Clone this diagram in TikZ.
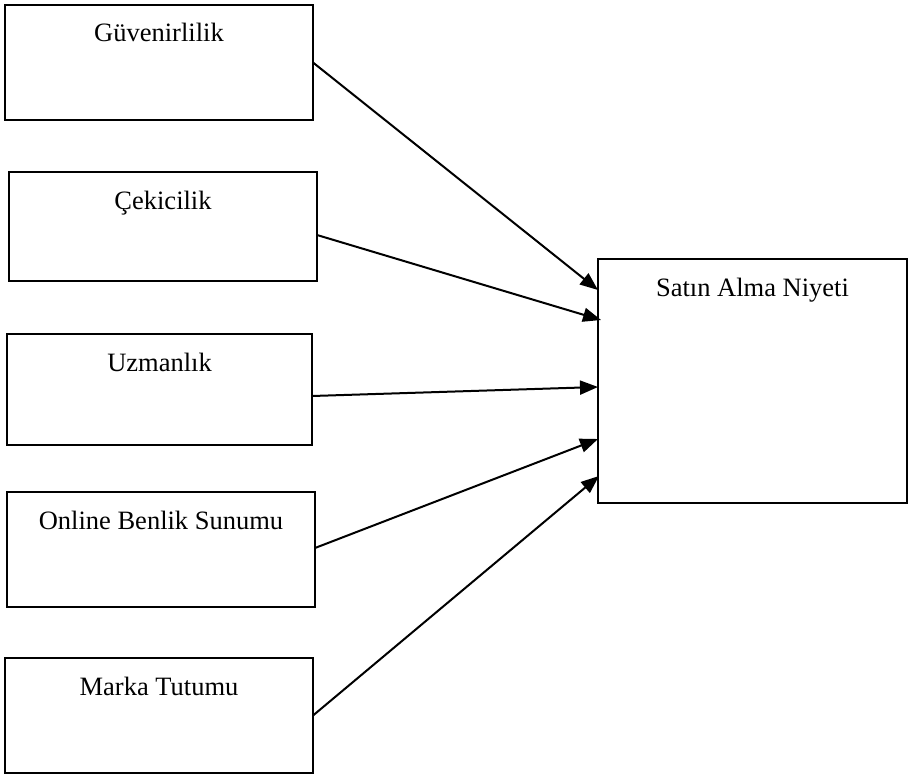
\documentclass[tikz,border=0pt]{standalone}
\usepackage{fontspec}
\setmainfont{Liberation Serif}
\usetikzlibrary{arrows.meta,calc}
\begin{document}
\begin{tikzpicture}[x=1pt,y=-1pt,
  box/.style={draw,line width=2.4pt,rectangle,inner sep=0pt,outer sep=0pt},
  boxlabel/.style={anchor=base,yshift=-37pt,font=\fontsize{26.5}{30}\selectfont,inner sep=0pt},
  conn/.style={line width=2pt,-{Triangle[length=18pt,width=14pt]}}]
\useasboundingbox (0,0) rectangle (910,776);
\node[box,minimum width=308pt,minimum height=115pt,label={[boxlabel]north:Güvenirlilik}] (b1) at (159,62.5) {};
\node[box,minimum width=308pt,minimum height=109pt,label={[boxlabel]north:Çekicilik}] (b2) at (163,226.5) {};
\node[box,minimum width=305pt,minimum height=111pt,label={[boxlabel]north:Uzmanlık}] (b3) at (159.5,389.5) {};
\node[box,minimum width=308pt,minimum height=115pt,label={[boxlabel]north:Online Benlik Sunumu}] (b4) at (161,549.5) {};
\node[box,minimum width=308pt,minimum height=115pt,label={[boxlabel]north:Marka Tutumu}] (b5) at (159,715.5) {};
\node[box,minimum width=309pt,minimum height=244pt,label={[boxlabel]north:Satın Alma Niyeti}] (t) at (752.5,381) {};
\draw[conn] (b1.east) -- ($(t.north west)+(0,31)$);
\draw[conn] ($(b2.east)+(0,8.5)$) -- ($(t.north west)+(3,61)$);
\draw[conn] ($(b3.east)+(0,6.5)$) -- ($(t.north west)+(0,128)$);
\draw[conn] ($(b4.east)+(0,-1.5)$) -- ($(t.north west)+(0,180)$);
\draw[conn] (b5.east) -- ($(t.north west)+(1,217)$);
\end{tikzpicture}
\end{document}
